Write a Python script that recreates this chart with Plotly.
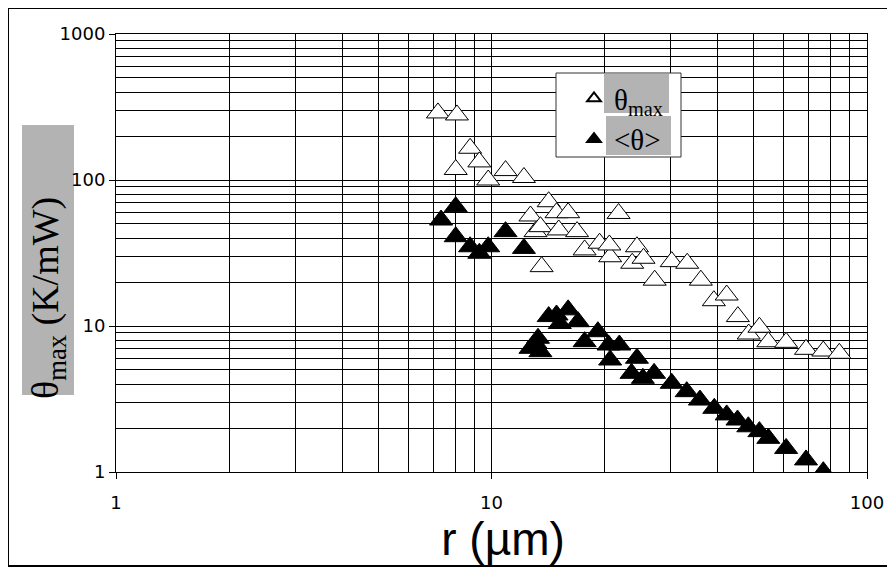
import plotly.graph_objects as go

# theta_max series (open triangles)
r_max = [7.20, 8.09, 8.77, 8.03, 9.28, 9.80, 10.9, 12.2, 14.2, 12.7, 14.9, 16.0, 21.8,
         13.1, 13.5, 15.1, 16.9, 13.6, 17.7, 19.4, 20.7, 20.6, 24.4, 23.7, 25.4, 27.2,
         30.2, 33.2, 36.1, 39.1, 42.3, 45.3, 48.4, 51.7, 54.6, 60.9, 68.8, 76.5, 84.4]
theta_max = [288, 279, 165, 118, 133, 100, 116, 104, 71, 56.7, 59.7, 59.7, 59,
             44.3, 47.9, 45.5, 44.3, 25.5, 33.2, 36.9, 29.8, 35.9, 34.9, 26.9, 29.1, 20.6,
             27.6, 26.9, 20.6, 14.9, 16.3, 11.6, 8.81, 9.80, 7.80, 7.73, 6.92, 6.74, 6.50]

# <theta> series (filled triangles)
r_mean = [7.34, 8.03, 8.03, 8.77, 9.28, 9.80, 10.9, 12.2,
          13.1, 12.7, 13.5, 13.3, 14.2, 14.9, 16.0, 15.2, 17.0, 17.7, 19.2, 20.5, 21.9,
          20.7, 24.4, 23.6, 25.3, 27.1, 30.2, 33.1, 35.9, 39.2, 42.3, 45.2, 48.3, 51.7,
          54.6, 60.9, 68.8, 76.5]
theta_mean = [53.2, 65.6, 40.9, 34.9, 31.5, 34.9, 44.3, 34.0,
              7.61, 7.03, 6.67, 8.24, 11.6, 11.9, 12.9, 10.4, 10.7, 7.81, 9.14, 7.41, 7.41,
              5.85, 6.01, 4.74, 4.38, 4.74, 4.05, 3.55, 3.11, 2.73, 2.46, 2.27, 2.04, 1.89,
              1.70, 1.45, 1.21, 1.005]

x_ticks = [1, 10, 100]
y_ticks = [1, 10, 100, 1000]

# The page body adds an 8px offset; work in screenshot pixels.
OFF = 8
FIG_W, FIG_H = 895 - OFF, 571 - OFF
L, R, T, B = 116, 867, 34, 472          # plot area in screenshot pixels
W, H = R - L, B - T
def px(x):
    return (x - L) / W
def py(y):
    return (B - y) / H

fig = go.Figure()
fig.add_trace(go.Scatter(
    x=r_max, y=theta_max, mode="markers", name="θ<sub>max</sub>",
    marker=dict(symbol="triangle-up", size=20, color="white",
                line=dict(color="black", width=1))))
fig.add_trace(go.Scatter(
    x=r_mean, y=theta_mean, mode="markers", name="&lt;θ&gt;",
    marker=dict(symbol="triangle-up", size=20, color="black",
                line=dict(color="black", width=1))))

tickfont = dict(family="DejaVu Sans", size=18, color="black")
fig.update_xaxes(
    type="log", range=[0, 2], tickvals=x_ticks, ticktext=[str(v) for v in x_ticks],
    showgrid=True, gridcolor="black", gridwidth=1,
    minor=dict(showgrid=True, gridcolor="black", gridwidth=1, dtick="D1", ticks=""),
    ticks="outside", ticklen=6, tickcolor="black", ticklabelstandoff=8,
    showline=True, linecolor="black", linewidth=1, mirror=True,
    zeroline=False, tickfont=tickfont,
    title=dict(text="&#8194;r (µm)", font=dict(family="Liberation Sans, Arial", size=46, color="black"),
               standoff=3))
fig.update_yaxes(
    type="log", range=[0, 3], tickvals=y_ticks, ticktext=[str(v) for v in y_ticks],
    showgrid=True, gridcolor="black", gridwidth=1,
    minor=dict(showgrid=True, gridcolor="black", gridwidth=1, dtick="D1", ticks=""),
    ticks="outside", ticklen=6, tickcolor="black", ticklabelstandoff=0,
    showline=True, linecolor="black", linewidth=1, mirror=True,
    zeroline=False, tickfont=tickfont)

shapes = [
    # outer chart border
    dict(type="rect", xref="paper", yref="paper", x0=px(8), x1=px(905), y0=py(566), y1=py(8),
         line=dict(color="black", width=2), fillcolor="rgba(0,0,0,0)", layer="below"),
    # y-title gray box
    dict(type="rect", xref="paper", yref="paper", x0=px(22), x1=px(74), y0=py(395), y1=py(125),
         line=dict(width=0), fillcolor="#b3b3b3", layer="below"),
    # legend box
    dict(type="rect", xref="paper", yref="paper", x0=px(556), x1=px(681), y0=py(157), y1=py(73),
         line=dict(color="#333333", width=1), fillcolor="white", layer="above"),
    dict(type="rect", xref="paper", yref="paper", x0=px(604), x1=px(669), y0=py(113), y1=py(74),
         line=dict(width=0), fillcolor="#b3b3b3", layer="above"),
    dict(type="rect", xref="paper", yref="paper", x0=px(606), x1=px(671), y0=py(155), y1=py(116),
         line=dict(width=0), fillcolor="#b3b3b3", layer="above"),
]

fig.update_layout(
    width=FIG_W, height=FIG_H,
    margin=dict(l=L - OFF, r=FIG_W - (R - OFF), t=T - OFF, b=FIG_H - (B - OFF)),
    paper_bgcolor="white", plot_bgcolor="white",
    shapes=shapes,
    showlegend=True,
    legend=dict(x=px(574), y=py(73), xanchor="left", yanchor="top",
                bgcolor="rgba(0,0,0,0)", borderwidth=0, itemsizing="constant",
                font=dict(family="Liberation Serif, Times New Roman", size=29, color="black"),
                tracegroupgap=0),
    annotations=[dict(
        text="θ<sub>max</sub> (K/mW)", xref="paper", yref="paper",
        x=px(48), y=py(298), xanchor="center", yanchor="middle", textangle=-90,
        showarrow=False,
        font=dict(family="Liberation Serif, Times New Roman", size=38, color="black"))],
)

fig.write_html("out.html")
